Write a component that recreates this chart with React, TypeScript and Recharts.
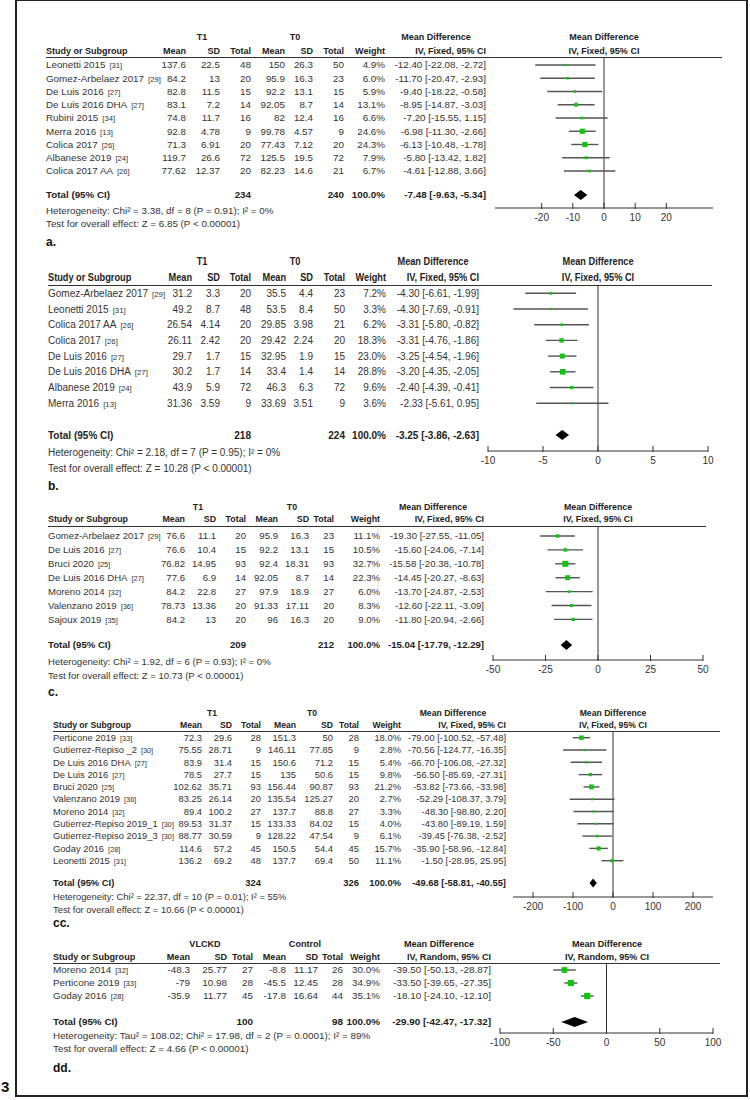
import React from "react";
import {
  ScatterChart,
  Scatter,
  XAxis,
  YAxis,
  ReferenceLine,
  ReferenceArea,
  ErrorBar,
} from "recharts";

const FONT = '"Liberation Sans", Arial, Helvetica, sans-serif';

// name, ref, T1 mean, T1 SD, T1 total, T0 mean, T0 SD, T0 total, weight %, MD, CI low, CI high
type Row = [string, string, string, string, string, string, string, string, number, number, number, number];

const studiesA: Row[] = [
  ["Leonetti 2015", "[31]", "137.6", "22.5", "48", "150", "26.3", "50", 4.9, -12.4, -22.08, -2.72],
  ["Gomez-Arbelaez 2017", "[29]", "84.2", "13", "20", "95.9", "16.3", "23", 6.0, -11.7, -20.47, -2.93],
  ["De Luis 2016", "[27]", "82.8", "11.5", "15", "92.2", "13.1", "15", 5.9, -9.4, -18.22, -0.58],
  ["De Luis 2016 DHA", "[27]", "83.1", "7.2", "14", "92.05", "8.7", "14", 13.1, -8.95, -14.87, -3.03],
  ["Rubini 2015", "[34]", "74.8", "11.7", "16", "82", "12.4", "16", 6.6, -7.2, -15.55, 1.15],
  ["Merra 2016", "[13]", "92.8", "4.78", "9", "99.78", "4.57", "9", 24.6, -6.98, -11.3, -2.66],
  ["Colica 2017", "[26]", "71.3", "6.91", "20", "77.43", "7.12", "20", 24.3, -6.13, -10.48, -1.78],
  ["Albanese 2019", "[24]", "119.7", "26.6", "72", "125.5", "19.5", "72", 7.9, -5.8, -13.42, 1.82],
  ["Colica 2017 AA", "[26]", "77.62", "12.37", "20", "82.23", "14.6", "21", 6.7, -4.61, -12.88, 3.66],
];
const totalA = [234, 240, -7.48, -9.63, -5.34];
const ticksA = [-20, -10, 0, 10, 20];

const studiesB: Row[] = [
  ["Gomez-Arbelaez 2017", "[29]", "31.2", "3.3", "20", "35.5", "4.4", "23", 7.2, -4.3, -6.61, -1.99],
  ["Leonetti 2015", "[31]", "49.2", "8.7", "48", "53.5", "8.4", "50", 3.3, -4.3, -7.69, -0.91],
  ["Colica 2017 AA", "[26]", "26.54", "4.14", "20", "29.85", "3.98", "21", 6.2, -3.31, -5.8, -0.82],
  ["Colica 2017", "[26]", "26.11", "2.42", "20", "29.42", "2.24", "20", 18.3, -3.31, -4.76, -1.86],
  ["De Luis 2016", "[27]", "29.7", "1.7", "15", "32.95", "1.9", "15", 23.0, -3.25, -4.54, -1.96],
  ["De Luis 2016 DHA", "[27]", "30.2", "1.7", "14", "33.4", "1.4", "14", 28.8, -3.2, -4.35, -2.05],
  ["Albanese 2019", "[24]", "43.9", "5.9", "72", "46.3", "6.3", "72", 9.6, -2.4, -4.39, -0.41],
  ["Merra 2016", "[13]", "31.36", "3.59", "9", "33.69", "3.51", "9", 3.6, -2.33, -5.61, 0.95],
];
const totalB = [218, 224, -3.25, -3.86, -2.63];
const ticksB = [-10, -5, 0, 5, 10];

const studiesC: Row[] = [
  ["Gomez-Arbelaez 2017", "[29]", "76.6", "11.1", "20", "95.9", "16.3", "23", 11.1, -19.3, -27.55, -11.05],
  ["De Luis 2016", "[27]", "76.6", "10.4", "15", "92.2", "13.1", "15", 10.5, -15.6, -24.06, -7.14],
  ["Bruci 2020", "[25]", "76.82", "14.95", "93", "92.4", "18.31", "93", 32.7, -15.58, -20.38, -10.78],
  ["De Luis 2016 DHA", "[27]", "77.6", "6.9", "14", "92.05", "8.7", "14", 22.3, -14.45, -20.27, -8.63],
  ["Moreno 2014", "[32]", "84.2", "22.8", "27", "97.9", "18.9", "27", 6.0, -13.7, -24.87, -2.53],
  ["Valenzano 2019", "[36]", "78.73", "13.36", "20", "91.33", "17.11", "20", 8.3, -12.6, -22.11, -3.09],
  ["Sajoux 2019", "[35]", "84.2", "13", "20", "96", "16.3", "20", 9.0, -11.8, -20.94, -2.66],
];
const totalC = [209, 212, -15.04, -17.79, -12.29];
const ticksC = [-50, -25, 0, 25, 50];

const studiesCC: Row[] = [
  ["Perticone 2019", "[33]", "72.3", "29.6", "28", "151.3", "50", "28", 18.0, -79.0, -100.52, -57.48],
  ["Gutierrez-Repiso _2", "[30]", "75.55", "28.71", "9", "146.11", "77.85", "9", 2.8, -70.56, -124.77, -16.35],
  ["De Luis 2016 DHA", "[27]", "83.9", "31.4", "15", "150.6", "71.2", "15", 5.4, -66.7, -106.08, -27.32],
  ["De Luis 2016", "[27]", "78.5", "27.7", "15", "135", "50.6", "15", 9.8, -56.5, -85.69, -27.31],
  ["Bruci 2020", "[25]", "102.62", "35.71", "93", "156.44", "90.87", "93", 21.2, -53.82, -73.66, -33.98],
  ["Valenzano 2019", "[36]", "83.25", "26.14", "20", "135.54", "125.27", "20", 2.7, -52.29, -108.37, 3.79],
  ["Moreno 2014", "[32]", "89.4", "100.2", "27", "137.7", "88.8", "27", 3.3, -48.3, -98.8, 2.2],
  ["Gutierrez-Repiso 2019_1", "[30]", "89.53", "31.37", "15", "133.33", "84.02", "15", 4.0, -43.8, -89.19, 1.59],
  ["Gutierrez-Repiso 2019_3", "[30]", "88.77", "30.59", "9", "128.22", "47.54", "9", 6.1, -39.45, -76.38, -2.52],
  ["Goday 2016", "[28]", "114.6", "57.2", "45", "150.5", "54.4", "45", 15.7, -35.9, -58.96, -12.84],
  ["Leonetti 2015", "[31]", "136.2", "69.2", "48", "137.7", "69.4", "50", 11.1, -1.5, -28.95, 25.95],
];
const totalCC = [324, 326, -49.68, -58.81, -40.55];
const ticksCC = [-200, -100, 0, 100, 200];

const studiesDD: Row[] = [
  ["Moreno 2014", "[32]", "-48.3", "25.77", "27", "-8.8", "11.17", "26", 30.0, -39.5, -50.13, -28.87],
  ["Perticone 2019", "[33]", "-79", "10.98", "28", "-45.5", "12.45", "28", 34.9, -33.5, -39.65, -27.35],
  ["Goday 2016", "[28]", "-35.9", "11.77", "45", "-17.8", "16.64", "44", 35.1, -18.1, -24.1, -12.1],
];
const totalDD = [100, 98, -29.9, -42.47, -17.32];
const ticksDD = [-100, -50, 0, 50, 100];

const panels = [
  {
    label: "a.", rows: studiesA, total: totalA, ticks: ticksA, domain: [-35, 35],
    groups: ["T1", "T0"], method: "IV, Fixed, 95% CI",
    het: "Heterogeneity: Chi² = 3.38, df = 8 (P = 0.91); I² = 0%",
    test: "Test for overall effect: Z = 6.85 (P < 0.00001)",
    L: { fs: 9.8, nameX: 46, cols: [186, 220, 251, 285, 313, 344, 385, 486], g1: 202, g0: 295, mdC: 436,
      grpY: 37, hdrY: 51, lineY: 57, lineX2: 722, firstY: 65, step: 13.25, totalY: 195, axisY: 208,
      plotL: 495, plotR: 713, hetY: 211, testY: 224, labY: 242, dia: 5 },
  },
  {
    label: "b.", rows: studiesB, total: totalB, ticks: ticksB, domain: [-10, 10],
    groups: ["T1", "T0"], method: "IV, Fixed, 95% CI",
    het: "Heterogeneity: Chi² = 2.18, df = 7 (P = 0.95); I² = 0%",
    test: "Test for overall effect: Z = 10.28 (P < 0.00001)",
    L: { fs: 10, nameX: 48, cols: [192, 220, 251, 286, 313, 345, 386, 479], g1: 202, g0: 295, mdC: 433,
      grpY: 262, hdrY: 278, lineY: 285, lineX2: 712, firstY: 293.3, step: 15.7, totalY: 435, axisY: 451,
      plotL: 488, plotR: 708, hetY: 453, testY: 469, labY: 486, dia: 5 },
  },
  {
    label: "c.", rows: studiesC, total: totalC, ticks: ticksC, domain: [-50, 50],
    groups: ["T1", "T0"], method: "IV, Fixed, 95% CI",
    het: "Heterogeneity: Chi² = 1.92, df = 6 (P = 0.93); I² = 0%",
    test: "Test for overall effect: Z = 10.73 (P < 0.00001)",
    L: { fs: 9.6, nameX: 48, cols: [185, 216, 246, 278, 309, 334, 380, 484], g1: 198, g0: 292, mdC: 433,
      grpY: 507, hdrY: 519, lineY: 526, lineX2: 706, firstY: 536, step: 13.9, totalY: 645, axisY: 660,
      plotL: 493, plotR: 703, hetY: 662, testY: 676, labY: 692, dia: 5 },
  },
  {
    label: "cc.", rows: studiesCC, total: totalCC, ticks: ticksCC, domain: [-250, 250],
    groups: ["T1", "T0"], method: "IV, Fixed, 95% CI",
    het: "Heterogeneity: Chi² = 22.37, df = 10 (P = 0.01); I² = 55%",
    test: "Test for overall effect: Z = 10.66 (P < 0.00001)",
    L: { fs: 9.4, nameX: 53, cols: [202, 232, 261, 296, 333, 359, 401, 506], g1: 212, g0: 312, mdC: 453,
      grpY: 713, hdrY: 725, lineY: 731, lineX2: 720, firstY: 737.7, step: 12.3, totalY: 883, axisY: 897,
      plotL: 513, plotR: 713, hetY: 897, testY: 910, labY: 923, dia: 4.5 },
  },
  {
    label: "dd.", rows: studiesDD, total: totalDD, ticks: ticksDD, domain: [-100, 100],
    groups: ["VLCKD", "Control"], method: "IV, Random, 95% CI",
    het: "Heterogeneity: Tau² = 108.02; Chi² = 17.98, df = 2 (P = 0.0001); I² = 89%",
    test: "Test for overall effect: Z = 4.66 (P < 0.00001)",
    L: { fs: 9.9, nameX: 53, cols: [190, 227, 253, 286, 318, 343, 380, 491], g1: 205, g0: 305, mdC: 439,
      grpY: 944, hdrY: 957, lineY: 963, lineX2: 720, firstY: 970, step: 13, totalY: 1022, axisY: 1033,
      plotL: 500, plotR: 713, hetY: 1036, testY: 1049, labY: 1068, dia: 5 },
  },
];

const fmt = (v: number) => v.toFixed(2);
const ciText = (md: number, lo: number, hi: number) => `${fmt(md)} [${fmt(lo)}, ${fmt(hi)}]`;

function Txt({ x, y, a = "start", b = false, fs = 10, c = "#222", sx = 1, children }: any) {
  const tx = a === "end" ? "-100%" : a === "middle" ? "-50%" : "0";
  const ox = a === "end" ? "100%" : a === "middle" ? "50%" : "0%";
  return (
    <div
      style={{
        position: "absolute", left: x, top: y, transform: `translate(${tx}, -50%) scaleX(${sx})`,
        transformOrigin: `${ox} 50%`,
        fontSize: fs, fontWeight: b ? 700 : 400, color: c, whiteSpace: "nowrap",
        lineHeight: 1, fontFamily: FONT,
      }}
    >
      {children}
    </div>
  );
}

const XTick = ({ x, y, payload }: any) => (
  <g>
    <line x1={x} x2={x} y1={y - 5} y2={y + 1} stroke="#333" strokeWidth={1} />
    <text x={x} y={y + 9} textAnchor="middle" dominantBaseline="central" fontSize={10} fill="#333" fontFamily={FONT}>
      {payload.value}
    </text>
  </g>
);

function Panel({ p }: any) {
  const L = p.L;
  const data = p.rows.map((r: Row, i: number) => ({
    row: i + 1, md: r[9], err: [r[9] - r[10], r[11] - r[9]], w: r[8], r,
  }));
  const totalRow = 1 + (L.totalY - L.firstY) / L.step;
  const d0 = 1 - (L.firstY - L.lineY) / L.step;
  const d1 = d0 + (L.axisY - L.lineY) / L.step;
  const h = L.axisY - L.lineY;
  const [n1, n0, tmd, tlo, thi] = p.total;
  const diaH = L.dia / L.step;
  const fs = L.fs;
  const HS = 0.92;

  const RowTick = (props: any) => {
    const { y, payload } = props;
    const v = payload.value;
    const common = { y, dy: "0.35em", fontSize: fs, fontFamily: FONT } as any;
    if (Math.abs(v - totalRow) < 1e-6) {
      const cells: [number, string][] = [[2, String(n1)], [5, String(n0)], [6, "100.0%"], [7, ciText(tmd, tlo, thi)]];
      return (
        <g>
          <text x={L.nameX} {...common} fontWeight={700} fill="#222">Total (95% CI)</text>
          {cells.map(([j, s]) => (
            <text key={j} x={L.cols[j]} {...common} textAnchor="end" fontWeight={700} fill="#222">{s}</text>
          ))}
        </g>
      );
    }
    const d = data[Math.round(v) - 1];
    if (!d) return null;
    const r: Row = d.r;
    const vals = [r[2], r[3], r[4], r[5], r[6], r[7], `${r[8].toFixed(1)}%`, ciText(r[9], r[10], r[11])];
    return (
      <g>
        <text x={L.nameX} {...common} fill="#333">
          {r[0]}
          <tspan fontSize={fs * 0.78} dx={4}>{r[1]}</tspan>
        </text>
        {vals.map((s, j) => (
          <text key={j} x={L.cols[j]} {...common} textAnchor="end" fill="#333">{s}</text>
        ))}
      </g>
    );
  };

  const hdrs = ["Mean", "SD", "Total", "Mean", "SD", "Total", "Weight"];
  const zeroX = (L.plotL + L.plotR) / 2;

  return (
    <>
      <Txt x={L.g1} y={L.grpY} a="middle" b fs={fs} sx={HS}>{p.groups[0]}</Txt>
      <Txt x={L.g0} y={L.grpY} a="middle" b fs={fs} sx={HS}>{p.groups[1]}</Txt>
      <Txt x={L.mdC} y={L.grpY} a="middle" b fs={fs} sx={HS}>Mean Difference</Txt>
      <Txt x={zeroX} y={L.grpY} a="middle" b fs={fs} sx={HS}>Mean Difference</Txt>
      <Txt x={L.nameX} y={L.hdrY} b fs={fs} sx={HS}>Study or Subgroup</Txt>
      {hdrs.map((s, j) => (
        <Txt key={j} x={L.cols[j]} y={L.hdrY} a="end" b fs={fs} sx={HS}>{s}</Txt>
      ))}
      <Txt x={L.cols[7]} y={L.hdrY} a="end" b fs={fs} sx={HS}>{p.method}</Txt>
      <Txt x={zeroX} y={L.hdrY} a="middle" b fs={fs} sx={HS}>{p.method}</Txt>
      <div style={{ position: "absolute", left: L.nameX, top: L.lineY - 0.5, width: L.lineX2 - L.nameX, height: 1, background: "#333" }} />
      <Txt x={L.nameX} y={L.hetY} fs={fs} c="#333">{p.het}</Txt>
      <Txt x={L.nameX} y={L.testY} fs={fs} c="#333">{p.test}</Txt>
      <Txt x={L.nameX} y={L.labY} b fs={12} c="#111">{p.label}</Txt>
      <div style={{ position: "absolute", left: 0, top: L.lineY }}>
        <ScatterChart width={750} height={h + 22} margin={{ top: 0, right: 750 - L.plotR, bottom: 0, left: 0 }}>
          <XAxis
            type="number" dataKey="md" domain={p.domain} ticks={p.ticks} allowDataOverflow
            axisLine={{ stroke: "#333" }} tickLine={false} tickSize={0} tickMargin={0}
            tick={<XTick />} height={22} interval={0}
          />
          <YAxis
            type="number" dataKey="row" domain={[d0, d1]} reversed allowDataOverflow width={L.plotL}
            ticks={[...data.map((d: any) => d.row), totalRow]} tick={RowTick}
            axisLine={false} tickLine={false} interval={0}
          />
          <ReferenceLine x={0} stroke="#333" strokeWidth={1} />
          <Scatter
            data={data}
            isAnimationActive={false}
            shape={(s: any) => {
              const side = Math.max(2.2, Math.sqrt(s.payload.w) * 1.05);
              return <rect x={s.cx - side / 2} y={s.cy - side / 2} width={side} height={side} fill="#10c410" />;
            }}
          >
            <ErrorBar dataKey="err" direction="x" width={0} stroke="#555" strokeWidth={1.4} isAnimationActive={false} />
          </Scatter>
          <ReferenceArea
            x1={tlo} x2={thi} y1={totalRow - diaH} y2={totalRow + diaH}
            shape={(s: any) => {
              const x = s.x, y = s.y, w = s.width, hh = s.height;
              const cx = x + ((tmd - tlo) / (thi - tlo)) * w;
              return <polygon points={`${x},${y + hh / 2} ${cx},${y} ${x + w},${y + hh / 2} ${cx},${y + hh}`} fill="#000" />;
            }}
          />
        </ScatterChart>
      </div>
    </>
  );
}

export default function App() {
  return (
    <div style={{ position: "absolute", left: 0, top: 0, width: 750, height: 1100, background: "#fff", fontFamily: FONT }}>
      <div style={{ position: "absolute", left: 15, top: -1, width: 729, height: 1094, border: "2px solid #222" }} />
      <Txt x={1} y={1086} b fs={15} c="#111">3</Txt>
      {panels.map((p) => (
        <Panel key={p.label} p={p} />
      ))}
    </div>
  );
}
